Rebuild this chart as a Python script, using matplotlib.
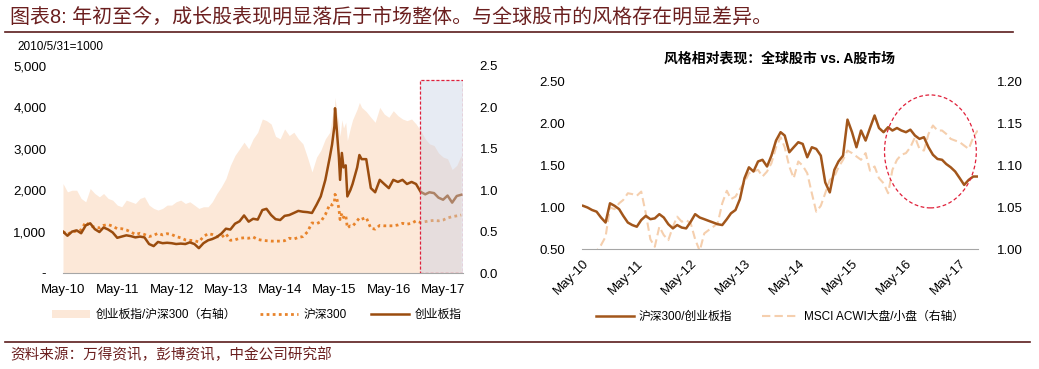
import matplotlib
matplotlib.use("Agg")
import matplotlib.pyplot as plt
import matplotlib.dates as mdates
from matplotlib.patches import Rectangle, Ellipse, Patch
from matplotlib.lines import Line2D
from matplotlib.ticker import FuncFormatter, MultipleLocator
import pandas as pd

plt.rcParams["font.family"] = ["Liberation Sans", "Noto Sans CJK SC"]

MONTH = pd.offsets.MonthEnd()

# ---- left chart data (2010/5/31 = 1000) ----
left_dates = (
    list(pd.date_range("2010-05-31", periods=60, freq=MONTH))
    + list(pd.to_datetime([
        "2015-05-15", "2015-05-31", "2015-06-04", "2015-06-15", "2015-06-30",
        "2015-07-08", "2015-07-20", "2015-07-31", "2015-08-15", "2015-08-26",
        "2015-09-15", "2015-09-30", "2015-10-31", "2015-11-15", "2015-11-30",
        "2015-12-31"]))
    + list(pd.date_range("2016-01-31", periods=21, freq=MONTH))
)
cyb = [
    1000, 900, 1000, 1030, 960, 1150, 1200, 1060, 990, 1100,
    1050, 980, 850, 880, 910, 890, 860, 880, 860, 700,
    650, 750, 720, 730, 720, 700, 710, 700, 740, 700,
    600, 720, 790, 820, 870, 950, 1070, 1050, 1190, 1250,
    1390, 1240, 1310, 1290, 1520, 1550, 1400, 1300, 1280, 1380,
    1400, 1450, 1500, 1480, 1470, 1450, 1650, 1850, 2250, 2800,
    3100, 3550, 3980, 3500, 2800, 2250, 2900, 2550, 2600, 1850,
    2000, 2150, 2550, 2850, 2750, 2750,
    2050, 1950, 2250, 2150, 2050, 2250, 2200, 2250, 2150, 2200,
    2150, 1960, 1900, 1950, 1930, 1820, 1770, 1870, 1700, 1860, 1890,
]
hs300 = [
    1000, 930, 1000, 1010, 1040, 1230, 1130, 1110, 1090, 1150,
    1170, 1130, 1070, 1070, 1040, 990, 930, 960, 930, 880,
    910, 960, 920, 950, 930, 880, 850, 800, 790, 780,
    750, 880, 950, 930, 880, 860, 950, 790, 800, 840,
    850, 840, 870, 810, 790, 780, 770, 770, 770, 780,
    840, 820, 860, 880, 990, 1210, 1190, 1240, 1410, 1660,
    1640, 1720, 1900, 1820, 1560, 1290, 1440, 1340, 1400, 1090,
    1140, 1130, 1260, 1330, 1300, 1340,
    1080, 1060, 1150, 1140, 1140, 1140, 1160, 1200, 1180, 1200,
    1260, 1220, 1240, 1260, 1270, 1260, 1280, 1330, 1360, 1380, 1400,
]
cyb_hs_ratio = [
    1.08, 0.98, 1.00, 1.00, 0.90, 0.86, 1.02, 0.96, 0.92, 0.96,
    0.90, 0.88, 0.82, 0.80, 0.88, 0.86, 0.84, 0.90, 0.92, 0.82,
    0.78, 0.76, 0.78, 0.82, 0.82, 0.86, 0.88, 0.84, 0.86, 0.82,
    0.78, 0.80, 0.80, 0.86, 0.96, 1.04, 1.14, 1.30, 1.42, 1.50,
    1.58, 1.50, 1.62, 1.70, 1.86, 1.84, 1.80, 1.65, 1.62, 1.74,
    1.66, 1.70, 1.62, 1.56, 1.40, 1.22, 1.40, 1.48, 1.62, 1.70,
    1.88, 2.00, 2.12, 1.95, 1.80, 1.65, 1.85, 1.75, 1.82, 1.60,
    1.75, 1.85, 1.98, 2.06, 2.00, 1.95,
    1.88, 1.82, 2.00, 1.92, 1.88, 1.96, 1.90, 1.86, 1.84, 1.86,
    1.80, 1.72, 1.62, 1.56, 1.54, 1.45, 1.40, 1.38, 1.25, 1.30, 1.42,
]

# ---- right chart data ----
right_dates = list(pd.date_range("2010-05-31", periods=89, freq=MONTH))
hs_cyb = [
    1.02, 1.00, 0.97, 0.95, 0.88, 0.82, 1.05, 1.02, 0.98, 0.90,
    0.82, 0.79, 0.77, 0.85, 0.90, 0.86, 0.87, 0.92, 0.88, 0.80,
    0.75, 0.79, 0.76, 0.75, 0.83, 0.92, 0.88, 0.86, 0.84, 0.82,
    0.80, 0.79, 0.86, 0.93, 0.97, 1.10, 1.35, 1.48, 1.43, 1.55,
    1.57, 1.49, 1.62, 1.80, 1.90, 1.86, 1.66, 1.72, 1.78, 1.76,
    1.60, 1.72, 1.70, 1.62, 1.30, 1.18, 1.45, 1.55, 1.62, 2.05,
    1.90, 1.72, 1.92, 1.80, 1.95, 2.10, 1.95, 1.90, 1.96, 1.92,
    1.95, 1.92, 1.90, 1.93, 1.86, 1.82, 1.84, 1.72, 1.63, 1.58,
    1.57, 1.52, 1.48, 1.43, 1.35, 1.27, 1.33, 1.37, 1.37,
]
msci_large_small = [
    0.985, 0.975, 0.985, 0.998, 1.005, 1.015, 1.050, 1.048, 1.055, 1.059,
    1.067, 1.066, 1.064, 1.069, 1.043, 1.012, 1.003, 1.027, 1.017, 1.011,
    1.027, 1.039, 1.033, 1.035, 1.031, 1.012, 0.998, 1.019, 1.023, 1.027,
    1.031, 1.055, 1.070, 1.060, 1.063, 1.072, 1.080, 1.091, 1.093, 1.095,
    1.087, 1.093, 1.103, 1.122, 1.134, 1.122, 1.099, 1.085, 1.105, 1.100,
    1.091, 1.067, 1.045, 1.052, 1.067, 1.083, 1.087, 1.098, 1.107, 1.118,
    1.115, 1.111, 1.107, 1.115, 1.094, 1.099, 1.085, 1.079, 1.067, 1.095,
    1.107, 1.113, 1.115, 1.122, 1.134, 1.120, 1.118, 1.138, 1.148, 1.142,
    1.142, 1.138, 1.132, 1.130, 1.128, 1.124, 1.120, 1.134, 1.142,
]

tick_dates = pd.to_datetime([f"{y}-05-31" for y in range(2010, 2018)])
tick_labels = [f"May-{y % 100:02d}" for y in range(2010, 2018)]

DARK_RED = "#6b1f1f"
BROWN = "#9a4c0e"
ORANGE = "#e8832a"
PEACH = "#fce8d8"
RBROWN = "#a2561b"
LIGHT = "#f5cfae"
GREY = "#a6a6a6"


def main():
    fig = plt.figure(figsize=(10.39, 3.69), dpi=100)

    # header / footer
    fig.text(10 / 1039, 1 - 17 / 369, "图表8: 年初至今，成长股表现明显落后于市场整体。与全球股市的风格存在明显差异。",
             color=DARK_RED, fontsize=14.4, va="center", ha="left")
    fig.add_artist(Line2D([5 / 1039, 1013 / 1039], [1 - 31.5 / 369] * 2,
                          transform=fig.transFigure, color="#5b1c1c", lw=1.2))
    fig.add_artist(Line2D([5 / 1039, 1030 / 1039], [1 - 341.5 / 369] * 2,
                          transform=fig.transFigure, color="#5b1c1c", lw=1.2))
    fig.text(10 / 1039, 1 - 355 / 369, "资料来源：万得资讯，彭博资讯，中金公司研究部",
             color=DARK_RED, fontsize=10.5, va="center", ha="left")
    fig.text(17 / 1039, 1 - 47 / 369, "2010/5/31=1000", fontsize=8.5,
             va="center", ha="left")

    # ---- left chart ----
    ax = fig.add_axes([63 / 1039, 1 - 273 / 369, 400 / 1039, 207 / 369])
    ax2 = ax.twinx()
    ax2.fill_between(left_dates, 0, cyb_hs_ratio, color=PEACH, lw=0)
    ax.plot(left_dates, hs300, color=ORANGE, lw=2, ls=(0, (1, 1.2)))
    ax.plot(left_dates, cyb, color=BROWN, lw=1.8)
    ax.set_zorder(ax2.get_zorder() + 1)
    ax.patch.set_visible(False)

    x0 = mdates.date2num(pd.Timestamp("2010-05-31"))
    x1 = mdates.date2num(pd.Timestamp("2017-10-12"))
    ax.set_xlim(x0, x1)
    ax.set_ylim(0, 5000)
    ax2.set_ylim(0, 2.5)
    ax.yaxis.set_major_locator(MultipleLocator(1000))
    ax2.yaxis.set_major_locator(MultipleLocator(0.5))
    ax.yaxis.set_major_formatter(
        FuncFormatter(lambda v, p: "-" if v == 0 else f"{v:,.0f}"))
    ax2.yaxis.set_major_formatter(FuncFormatter(lambda v, p: f"{v:.1f}"))
    ax.set_xticks(mdates.date2num(tick_dates))
    ax.set_xticklabels(tick_labels)
    for a in (ax, ax2):
        for s in a.spines.values():
            s.set_visible(False)
        a.tick_params(length=0, labelsize=9.5)
    ax.spines["bottom"].set_visible(True)
    ax.spines["bottom"].set_color(GREY)
    ax.tick_params(axis="y", pad=12)
    ax.tick_params(axis="x", pad=8)
    ax2.tick_params(axis="y", pad=12)

    bx = mdates.date2num(pd.Timestamp("2016-12-24"))
    ax.add_patch(Rectangle((bx, 0), x1 - bx - 1, 4660, facecolor="#c8d0e4",
                           alpha=0.42, edgecolor="none", zorder=5))
    ax.add_patch(Rectangle((bx, 0), x1 - bx - 1, 4660, facecolor="none",
                           edgecolor="#e0203a", lw=0.9, ls=(0, (2.5, 1.5)),
                           zorder=6))

    handles = [Patch(facecolor=PEACH, edgecolor="none"),
               Line2D([], [], color=ORANGE, lw=2, ls=(0, (1, 1.2))),
               Line2D([], [], color=BROWN, lw=1.8)]
    fig.legend(handles, ["创业板指/沪深300（右轴）", "沪深300", "创业板指"],
               loc="center", bbox_to_anchor=(257 / 1039, 1 - 315 / 369),
               ncol=3, frameon=False, fontsize=8.5, handlelength=3.2,
               handletextpad=0.5, columnspacing=2.0, handleheight=0.6)

    # ---- right chart ----
    bxr = fig.add_axes([582 / 1039, 1 - 249.3 / 369, 396 / 1039, 167.3 / 369])
    bxr2 = bxr.twinx()
    bxr2.plot(right_dates, msci_large_small, color=LIGHT, lw=1.5,
              ls=(0, (4, 2)))
    bxr.plot(right_dates, hs_cyb, color=RBROWN, lw=1.8)
    bxr.set_zorder(bxr2.get_zorder() + 1)
    bxr.patch.set_visible(False)

    r0 = mdates.date2num(pd.Timestamp("2010-05-24"))
    r1 = mdates.date2num(pd.Timestamp("2017-10-02"))
    bxr.set_xlim(r0, r1)
    bxr.set_ylim(0.5, 2.5)
    bxr2.set_ylim(1.0, 1.2)
    bxr.yaxis.set_major_locator(MultipleLocator(0.5))
    bxr2.yaxis.set_major_locator(MultipleLocator(0.05))
    bxr.yaxis.set_major_formatter(FuncFormatter(lambda v, p: f"{v:.2f}"))
    bxr2.yaxis.set_major_formatter(FuncFormatter(lambda v, p: f"{v:.2f}"))
    bxr.set_xticks(mdates.date2num(tick_dates))
    bxr.set_xticklabels(tick_labels, rotation=45, ha="right",
                        rotation_mode="anchor")
    for a in (bxr, bxr2):
        for s in a.spines.values():
            s.set_visible(False)
        a.tick_params(length=0, labelsize=9.5)
    bxr.spines["bottom"].set_visible(True)
    bxr.spines["bottom"].set_color(GREY)
    bxr.tick_params(axis="y", pad=12)
    bxr.tick_params(axis="x", pad=6)
    bxr2.tick_params(axis="y", pad=14)

    ec = mdates.date2num(pd.Timestamp("2016-11-13"))
    bxr.add_patch(Ellipse((ec, 1.67), 623, 1.35, facecolor="none",
                          edgecolor="#e0203a", lw=0.9, ls=(0, (3, 2)),
                          zorder=6))
    bxr.set_title("风格相对表现：全球股市 vs. A股市场", fontsize=10,
                  fontweight="bold", pad=14)

    handles = [Line2D([], [], color=RBROWN, lw=1.8),
               Line2D([], [], color=LIGHT, lw=1.5, ls=(0, (4, 2)))]
    fig.legend(handles, ["沪深300/创业板指", "MSCI ACWI大盘/小盘（右轴）"],
               loc="center", bbox_to_anchor=(780 / 1039, 1 - 317 / 369),
               ncol=2, frameon=False, fontsize=8.5, handlelength=3.2,
               handletextpad=0.4, columnspacing=2.5)

    fig.savefig("out.png", dpi=100)


if __name__ == "__main__":
    main()
